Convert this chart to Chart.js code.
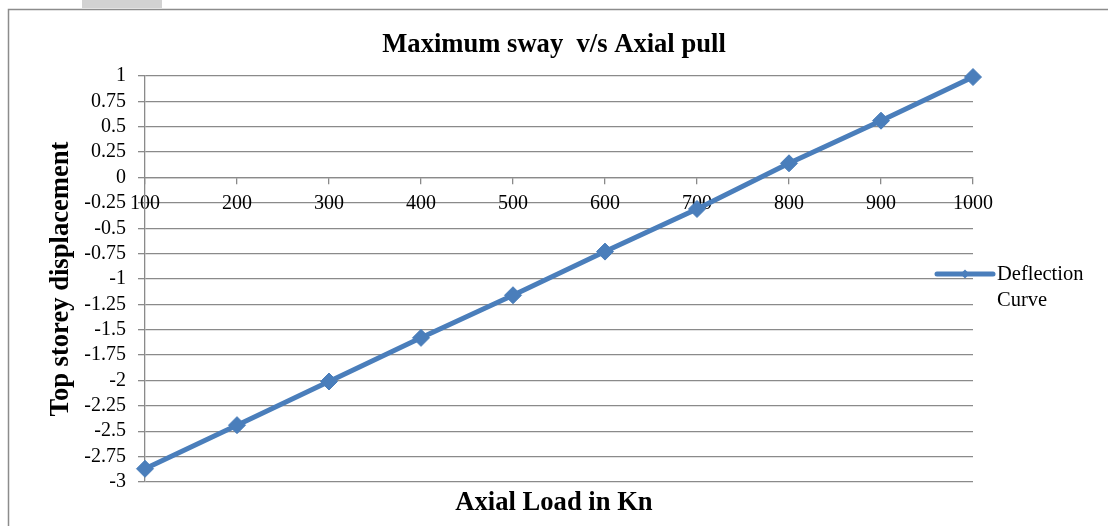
<!DOCTYPE html>
<html>
<head>
<meta charset="utf-8">
<style>
  html, body { margin: 0; padding: 0; background: #ffffff; }
  #wrap { width: 1108px; height: 526px; }
</style>
<script src="https://cdn.jsdelivr.net/npm/chart.js@4.4.1/dist/chart.umd.min.js"></script>
</head>
<body>
<div id="wrap"><canvas id="chart" width="1108" height="526"></canvas></div>
<script>
// Axial load (kN) and the resulting top storey displacement
const axialLoads = [100, 200, 300, 400, 500, 600, 700, 800, 900, 1000];
const topDisplacement = [-2.87, -2.44, -2.01, -1.58, -1.16, -0.73, -0.31, 0.14, 0.56, 0.99];
const seriesName = ['Deflection', 'Curve'];

const SERIF = '"Liberation Serif", "Times New Roman", serif';
const LINE_BLUE = '#4a7ebb';
const GRID_GREY = '#8a8a8a';

// Frame around the figure and the small grey tab above it
const framePlugin = {
  id: 'frame',
  beforeDraw(chart) {
    const ctx = chart.ctx;
    ctx.save();
    ctx.fillStyle = '#ffffff';
    ctx.fillRect(0, 0, chart.width, chart.height);
    ctx.fillStyle = '#d2d2d2';
    ctx.fillRect(82, 0, 80, 8);
    ctx.strokeStyle = '#8c8c8c';
    ctx.lineWidth = 1.5;
    ctx.beginPath();
    ctx.moveTo(8.5, chart.height);
    ctx.lineTo(8.5, 9.5);
    ctx.lineTo(chart.width, 9.5);
    ctx.stroke();
    ctx.restore();
  }
};

// Legend on the right: line sample with a small diamond, two-line label
const sideLegend = {
  id: 'sideLegend',
  afterDraw(chart) {
    const ctx = chart.ctx;
    const ds = chart.data.datasets[0];
    const area = chart.chartArea;
    const y = (area.top + area.bottom) / 2 - 5;
    const x0 = area.right - 36, x1 = area.right + 20;
    ctx.save();
    ctx.strokeStyle = ds.borderColor;
    ctx.lineWidth = 5;
    ctx.lineCap = 'round';
    ctx.beginPath();
    ctx.moveTo(x0, y);
    ctx.lineTo(x1, y);
    ctx.stroke();
    const cx = (x0 + x1) / 2, r = 4.5;
    ctx.fillStyle = ds.borderColor;
    ctx.beginPath();
    ctx.moveTo(cx - r, y); ctx.lineTo(cx, y - r); ctx.lineTo(cx + r, y); ctx.lineTo(cx, y + r);
    ctx.closePath();
    ctx.fill();
    ctx.fillStyle = '#000000';
    ctx.font = '20.5px ' + SERIF;
    ctx.textBaseline = 'middle';
    ctx.textAlign = 'left';
    ds.label.forEach((line, i) => ctx.fillText(line, x1 + 4, y + 1 + i * 25.5));
    ctx.restore();
  }
};

const tickFont = { family: SERIF, size: 20 };
const titleFont = { family: SERIF, size: 26.6, weight: 'bold', lineHeight: 1.2 };

new Chart(document.getElementById('chart'), {
  type: 'line',
  data: {
    datasets: [{
      label: seriesName,
      data: axialLoads.map((x, i) => ({ x: x, y: topDisplacement[i] })),
      borderColor: LINE_BLUE,
      backgroundColor: LINE_BLUE,
      borderWidth: 5,
      pointStyle: 'rectRot',
      pointRadius: 8.5,
      pointBorderWidth: 1,
      pointBackgroundColor: LINE_BLUE,
      pointBorderColor: LINE_BLUE,
      tension: 0,
      clip: false
    }]
  },
  options: {
    responsive: false,
    animation: false,
    layout: { padding: 0 },
    plugins: {
      legend: { display: false },
      tooltip: { enabled: false },
      title: {
        display: true,
        text: 'Maximum sway  v/s Axial pull',
        color: '#000000',
        font: titleFont,
        padding: { top: 29, bottom: 15.1 }
      },
      subtitle: {
        display: true,
        position: 'bottom',
        text: 'Axial Load in Kn',
        color: '#000000',
        font: titleFont,
        padding: { top: 5, bottom: 7.1 }
      }
    },
    scales: {
      x: {
        type: 'linear',
        position: { y: 0 },
        min: 100,
        max: 1000,
        ticks: {
          stepSize: 100,
          autoSkip: false,
          color: '#000000',
          font: tickFont,
          padding: 8,
          maxRotation: 0,
          callback: (v) => String(v)
        },
        grid: {
          drawOnChartArea: false,
          drawTicks: true,
          tickLength: 6,
          color: GRID_GREY,
          lineWidth: 1.3
        },
        border: { display: true, color: GRID_GREY, width: 1.3 }
      },
      y: {
        type: 'linear',
        min: -3,
        max: 1,
        afterFit(scale) { scale.width = 145; },
        ticks: {
          stepSize: 0.25,
          autoSkip: false,
          color: '#000000',
          font: tickFont,
          padding: 12,
          callback: (v) => String(Math.round(v * 100) / 100)
        },
        grid: {
          color: GRID_GREY,
          lineWidth: 1.3,
          drawTicks: true,
          tickLength: 7
        },
        border: { display: true, color: GRID_GREY, width: 1.3 },
        title: {
          display: true,
          text: 'Top storey displacement',
          color: '#000000',
          font: titleFont,
          padding: { top: 45, bottom: 0 }
        }
      },
      // empty right-hand band that reserves room for the legend
      legendBand: {
        type: 'linear',
        position: 'right',
        display: true,
        afterFit(scale) { scale.width = 135; },
        ticks: { display: false },
        grid: { display: false, drawOnChartArea: false },
        border: { display: false }
      }
    }
  },
  plugins: [framePlugin, sideLegend]
});
</script>
</body>
</html>
